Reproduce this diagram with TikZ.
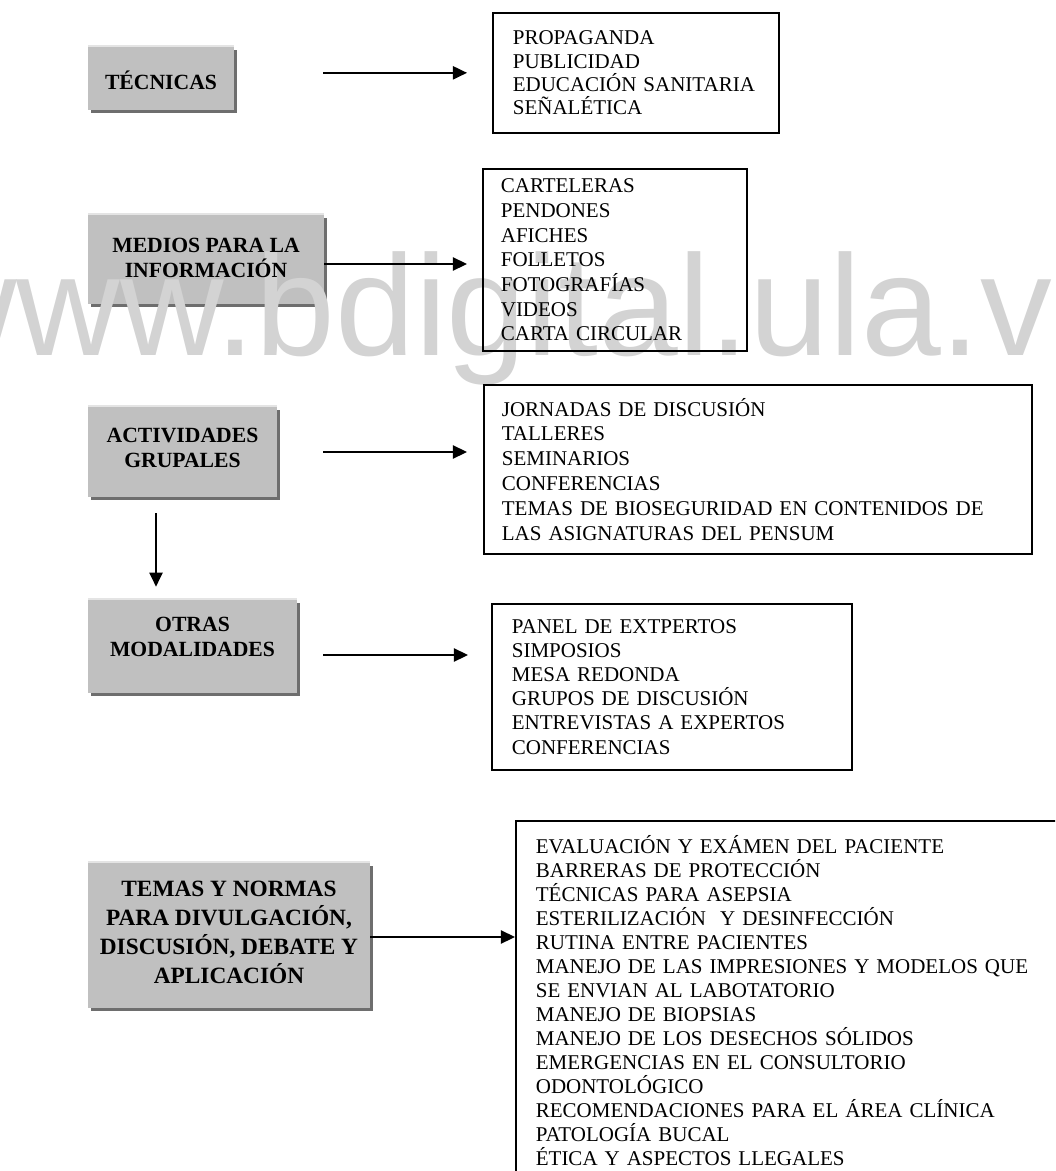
\documentclass[tikz,border=0pt]{standalone}
\usepackage{fontspec}
\setmainfont{Liberation Serif}
\newfontfamily\markfont{Liberation Sans}
\usetikzlibrary{arrows.meta,positioning,calc}
\definecolor{boxgray}{HTML}{C0C0C0}
\definecolor{boxshade}{HTML}{6E6E6E}
\definecolor{boxlight}{HTML}{E4E4E4}
\definecolor{markgray}{HTML}{D3D3D3}
\pgfdeclarelayer{background}
\pgfdeclarelayer{watermark}
\pgfsetlayers{background,watermark,main}
\tikzset{
  headbox/.style={
    align=center, inner sep=0pt,
    font=\bfseries\fontsize{13}{15}\selectfont
  },
  listbox/.style={
    draw=black, line width=1pt, align=left, anchor=north west,
    inner xsep=12pt, inner ysep=0pt
  },
  link/.style={-{Triangle[length=8.5pt,width=8pt]}, line width=0.9pt}
}

\begin{document}
\begin{tikzpicture}[x=0.6pt,y=-0.6pt]
  \clip (0,0) rectangle (1055,1171);

  % grey headings on the left
  \node[headbox, minimum width=87.6pt, minimum height=37.8pt] (tec) at (161,80) {TÉCNICAS};
  \node[headbox, minimum width=141.6pt, minimum height=53.4pt] (med) at (206,257.5) {MEDIOS PARA LA\\INFORMACIÓN};
  \node[headbox, minimum width=113.4pt, minimum height=54pt] (act) at (182.5,447.5) {ACTIVIDADES\\GRUPALES};
  \node[headbox, minimum width=125.4pt, minimum height=55.8pt] (otr) at (192.5,637) {OTRAS\\MODALIDADES};
  \node[headbox, minimum width=169.2pt, minimum height=87pt,
        font=\bfseries\fontsize{14}{17.4}\selectfont] (tem) at (229,932)
        {TEMAS Y NORMAS\\PARA DIVULGACIÓN,\\DISCUSIÓN, DEBATE Y\\APLICACIÓN};

  % lists on the right
  \node[listbox, text width=147.6pt, minimum height=72pt,
        font=\fontsize{12.6}{14}\selectfont] (tecl) at (492,12)
        {PROPAGANDA\\PUBLICIDAD\\EDUCACIÓN SANITARIA\\SEÑALÉTICA};
  \node[listbox, text width=136.8pt, inner xsep=10.8pt, minimum height=109.2pt,
        font=\fontsize{12.6}{14.8}\selectfont] (medl) at (482,168)
        {CARTELERAS\\PENDONES\\AFICHES\\FOLLETOS\\FOTOGRAFÍAS\\VIDEOS\\CARTA CIRCULAR};
  \node[listbox, text width=307.2pt, inner xsep=10.8pt, minimum height=101.4pt,
        font=\fontsize{12.6}{14.9}\selectfont] (actl) at (483,384)
        {JORNADAS DE DISCUSIÓN\\TALLERES\\SEMINARIOS\\CONFERENCIAS\\
         TEMAS DE BIOSEGURIDAD EN CONTENIDOS DE\\LAS ASIGNATURAS DEL PENSUM};
  \node[listbox, text width=192pt, minimum height=99.6pt,
        font=\fontsize{12.6}{14.5}\selectfont] (otrl) at (491,603)
        {PANEL DE EXTPERTOS\\SIMPOSIOS\\MESA REDONDA\\GRUPOS DE DISCUSIÓN\\
         ENTREVISTAS A EXPERTOS\\CONFERENCIAS};
  \node[listbox, text width=312pt, minimum height=216pt,
        font=\fontsize{12.6}{14.4}\selectfont] (teml) at (515,820)
        {EVALUACIÓN Y EXÁMEN DEL PACIENTE\\BARRERAS DE PROTECCIÓN\\
         TÉCNICAS PARA ASEPSIA\\ESTERILIZACIÓN \ Y DESINFECCIÓN\\
         RUTINA ENTRE PACIENTES\\MANEJO DE LAS IMPRESIONES Y MODELOS QUE\\
         SE ENVIAN AL LABOTATORIO\\MANEJO DE BIOPSIAS\\
         MANEJO DE LOS DESECHOS SÓLIDOS\\EMERGENCIAS EN EL CONSULTORIO\\
         ODONTOLÓGICO\\RECOMENDACIONES PARA EL ÁREA CLÍNICA\\
         PATOLOGÍA BUCAL\\ÉTICA Y ASPECTOS LLEGALES};

  % arrows
  \coordinate (vx) at (156,0);
  \draw[link, shorten <=53.4pt, shorten >=15pt] (tec.east |- tecl.west) -- (tecl.west);
  \draw[link, shorten >=9pt] ([yshift=-3.9pt]med.east) -- ([yshift=-3.9pt]med.east -| medl.west);
  \draw[link, shorten <=27.6pt, shorten >=9.6pt] ([yshift=-2.7pt]act.east) -- ([yshift=-2.7pt]act.east -| actl.west);
  \draw[link, shorten <=15.6pt, shorten >=13.8pt] ([yshift=-10.8pt]otr.east) -- ([yshift=-10.8pt]otr.east -| otrl.west);
  \draw[link] ([yshift=-3pt]tem.east) -- ([yshift=-3pt]tem.east -| teml.west);
  \draw[link, shorten <=12.3pt, shorten >=2.1pt] (act.south -| vx) -- (otr.north -| vx);

  % shading of the grey headings, set a little below the text
  \begin{pgfonlayer}{background}
    \foreach \n/\dy in {tec/0.9,med/-1.2,act/-2.7,otr/-5.7,tem/-2.1}{
      \begin{scope}[transform canvas={yshift=\dy pt}]
        \fill[boxshade] ([shift={(1.8pt,-1.8pt)}]\n.south west) rectangle ([shift={(1.8pt,-1.8pt)}]\n.north east);
        \fill[boxlight] (\n.north west) rectangle ([yshift=1.2pt]\n.north east);
        \fill[boxgray] (\n.south west) rectangle (\n.north east);
      \end{scope}
    }
  \end{pgfonlayer}

  % watermark
  \begin{pgfonlayer}{watermark}
    \node[anchor=base west, inner sep=0pt, text=markgray,
          font=\markfont\fontsize{86}{86}\selectfont] (mark) at (-87,355) {www.bdigital.ula.ve};
  \end{pgfonlayer}
\end{tikzpicture}
\end{document}
